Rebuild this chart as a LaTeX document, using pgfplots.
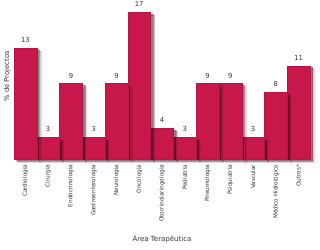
\documentclass[border=0pt]{standalone}
\usepackage{pgfplots}
\pgfplotsset{compat=1.18}
\usepackage{fontspec}
\setmainfont{DejaVu Sans}
\usetikzlibrary{shadows}
\definecolor{barred}{HTML}{C8174B}
\definecolor{txtgray}{HTML}{333333}
\pgfplotsset{rbar/.style={fill=barred, draw=barred!90!black, line width=0.3pt, bar shift=0pt,
  drop shadow={shadow xshift=4pt, shadow yshift=-3pt, opacity=0.18, fill=black},
  drop shadow={shadow xshift=2.5pt, shadow yshift=-1.8pt, opacity=0.38, fill=black}}}
\begin{document}
\begin{tikzpicture}
\useasboundingbox (0,0) rectangle (320pt,249pt);
\begin{axis}[
  at={(14pt,89.7pt)}, anchor=south west,
  scale only axis, width=296pt, height=147.3pt,
  xmin=-0.5, xmax=12.5, ymin=0, ymax=16.46,
  y filter/.expression={y-0.54},
  point meta=rawy,
  axis line style={draw=none},
  tick style={draw=none},
  /pgf/number format/assume math mode=true,
  ybar, bar width=296pt/13,
  xtick={0,...,12},
  xticklabels={Cardiologia,Cirurgia,Endocrinologia,Gastroenterologia,Neurologia,Oncologia,Otorrinolaringologia,Pediatria,Pneumologia,Psiquiatria,Vascular,Médico Hidrológico,Outros*},
  ytick=\empty,
  xticklabel style={rotate=90, anchor=east, font=\fontsize{5.7}{6}\selectfont, text=txtgray, inner sep=1pt},
  xticklabel pos=bottom,
  clip=false,
  nodes near coords,
  nodes near coords style={font=\fontsize{6.8}{7}\selectfont, text=txtgray, yshift=2pt},
  xlabel={Área Terapêutica},
  xlabel style={at={(rel axis cs:0.5,0)}, anchor=center, yshift=-80pt, font=\fontsize{7}{8}\selectfont, text=txtgray},
  ylabel={\% de Projectos},
  ylabel style={at={(rel axis cs:0,0.57)}, anchor=south, rotate=0, xshift=-1pt, font=\fontsize{6.8}{7}\selectfont, text=txtgray},
]
\addplot[rbar] coordinates {(12,11)};
\addplot[rbar] coordinates {(11,8)};
\addplot[rbar] coordinates {(10,3)};
\addplot[rbar] coordinates {(9,9)};
\addplot[rbar] coordinates {(8,9)};
\addplot[rbar] coordinates {(7,3)};
\addplot[rbar] coordinates {(6,4)};
\addplot[rbar] coordinates {(5,17)};
\addplot[rbar] coordinates {(4,9)};
\addplot[rbar] coordinates {(3,3)};
\addplot[rbar] coordinates {(2,9)};
\addplot[rbar] coordinates {(1,3)};
\addplot[rbar] coordinates {(0,13)};
\end{axis}
\end{tikzpicture}
\end{document}
